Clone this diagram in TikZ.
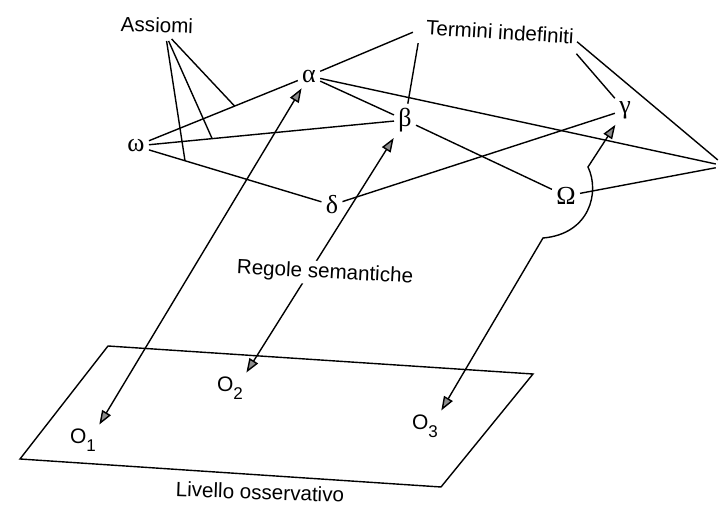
\documentclass[tikz,border=0pt]{standalone}
\usepackage{fontspec}
\setmainfont{Liberation Sans}
\newfontfamily\grk{Liberation Serif}
\usetikzlibrary{arrows.meta,calc}
\newcommand{\obsl}[1]{O\raisebox{-4pt}{\fontsize{8.5}{9}\selectfont #1}}
\begin{document}
\begin{tikzpicture}[x=0.5pt,y=-0.5pt,
  lbl/.style={font=\fontsize{10.3}{12}\selectfont, inner sep=2pt},
  gr/.style={font=\grk\fontsize{13}{15}\selectfont, inner sep=2pt},
  obs/.style={font=\fontsize{10.5}{12}\selectfont, inner sep=1pt},
  ln/.style={line width=0.7pt},
  tip/.tip={Triangle[length=7pt,width=5pt,fill=black!45]},
  dbl/.style={line width=0.7pt, tip-tip, shorten <=1pt, shorten >=1pt}
]
\useasboundingbox (0,0) rectangle (720,508);
\fill[white] (0,0) rectangle (720,508);

% greek nodes
\node[gr] (w) at (136,146) {ω};
\node[gr] (a) at (309,76) {α};
\node[gr] (b) at (405,120) {β};
\node[gr] (g) at (625,110) {γ};
\node[gr] (d) at (332,205) {δ};
\node[gr] (W) at (566,196) {Ω};
\node[circle, minimum size=9pt, inner sep=0pt] (R) at (725,166) {};

% labels
\node[lbl, rotate=-2] (A) at (157,25) {Assiomi};
\node[lbl, rotate=-3.5] (T) at (500,32) {Termini indefiniti};

% observation plane
\coordinate (P1) at (108,346);
\coordinate (P2) at (533,374);
\coordinate (P3) at (441,487);
\coordinate (P4) at (20,459);
\draw[ln] (P1) -- (P2) -- (P3) -- (P4) -- cycle;
\node[lbl, rotate=-2] (LO) at (260,492) {Livello osservativo};

\node[obs] (O1) at (83,440) {\obsl{1}};
\node[obs] (O2) at (230,388) {\obsl{2}};
\node[obs] (O3) at (425,426) {\obsl{3}};

% theory edges
\draw[ln] (w) -- (a);
\draw[ln] (w) -- (b);
\draw[ln] (w) -- (d);
\draw[ln] (a) -- (b);
\draw[ln] (a) -- (R);
\draw[ln] (b) -- (W);
\draw[ln] (d) -- (g);
\draw[ln] (W) -- (R);

% Assiomi pointers
\draw[ln] ($(A.south)+(15,2)$) -- ($(w)!0.57!(a)$);
\draw[ln] ($(A.south)+(12,4)$) -- ($(w)!0.283!(b)$);
\draw[ln] ($(A.south)+(10,4)$) -- ($(w)!0.25!(d)$);

% Termini pointers
\draw[ln] ($(T.west)+(-9,5)$) -- (a);
\draw[ln] ($(T.south west)+(-3,4)$) -- (b);
\draw[ln] ($(T.east)+(-1,5)$) -- (R);
\draw[ln] ($(T.south east)+(-1,5)$) -- (g);

% semantic rules
\coordinate (k1) at (543,238);
\coordinate (k2) at (588,167);
\draw[dbl] (O1.north east) -- (a);
\draw[dbl] (O2.north east) -- (b);
\draw[dbl] (O3.north east) -- (k1) .. controls (590,234) and (600,192) .. (k2) -- (g);

\node[lbl, fill=white, inner sep=1pt, rotate=-3] (RS) at (325,273) {Regole semantiche};
\end{tikzpicture}
\end{document}
